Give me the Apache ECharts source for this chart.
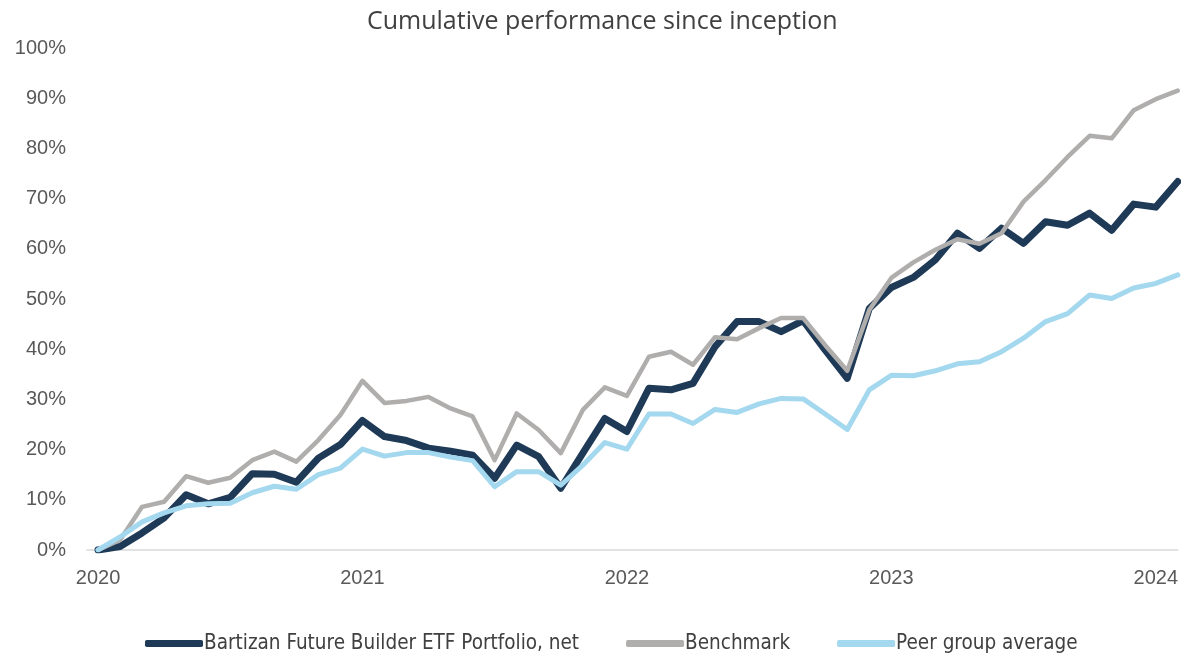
<!DOCTYPE html>
<html>
<head>
<meta charset="utf-8">
<script src="https://cdn.jsdelivr.net/npm/echarts@6/dist/echarts.min.js"></script>
<style>
html,body{margin:0;padding:0;background:#fff;}
#chart{width:1181px;height:653px;}
</style>
</head>
<body>
<div id="chart"></div>
<script>
// Monthly points from Jan 2020 (index 0) to Feb 2024 (index 49)
const yearLabels = ['2020', '2021', '2022', '2023', '2024'];
const yearIndex = [0, 12, 24, 36, 48];

const portfolio = [0, 0.7, 3.4, 6.4, 11.0, 9.2, 10.5, 15.2, 15.1, 13.5, 18.3, 21.0,
  25.8, 22.6, 21.8, 20.3, 19.7, 18.9, 14.3, 20.9, 18.6, 12.3, 19.3, 26.2,
  23.6, 32.2, 31.9, 33.2, 40.5, 45.5, 45.5, 43.5, 45.7, 39.8, 34.2, 48.1,
  52.3, 54.3, 57.8, 63.1, 60.1, 64.1, 61.1, 65.4, 64.7, 67.1, 63.7, 68.9,
  68.3, 73.4];
const benchmark = [0, 2.0, 8.6, 9.6, 14.7, 13.4, 14.4, 17.9, 19.6, 17.6, 21.9, 26.9,
  33.7, 29.3, 29.7, 30.5, 28.2, 26.6, 17.9, 27.2, 23.9, 19.3, 27.9, 32.4,
  30.7, 38.5, 39.5, 36.9, 42.4, 42.0, 44.2, 46.2, 46.2, 40.8, 35.7, 47.8,
  54.2, 57.3, 59.8, 61.9, 61.0, 63.1, 69.4, 73.7, 78.3, 82.5, 82.0, 87.6,
  89.8, 91.5];
const peer = [0, 2.6, 5.6, 7.4, 8.8, 9.2, 9.3, 11.4, 12.7, 12.1, 15.0, 16.3,
  20.1, 18.7, 19.4, 19.4, 18.5, 17.8, 12.6, 15.6, 15.6, 12.9, 16.9, 21.4,
  20.1, 27.1, 27.1, 25.2, 28.0, 27.4, 29.1, 30.2, 30.1, 27.1, 24.0, 31.9,
  34.8, 34.7, 35.7, 37.1, 37.5, 39.5, 42.2, 45.5, 47.1, 50.8, 50.1, 52.2,
  53.1, 54.8];
const seriesNames = ['Bartizan Future Builder ETF Portfolio, net', 'Benchmark', 'Peer group average'];

const toPairs = arr => arr.map((v, i) => [i, v]);

const chart = echarts.init(document.getElementById('chart'));
const axisFont = {fontFamily: 'Liberation Sans', fontSize: 20, color: '#595959'};
chart.setOption({
  animation: false,
  backgroundColor: '#ffffff',
  title: {
    text: 'Cumulative performance since inception',
    left: 362, top: 4,
    textStyle: {fontFamily: 'Open Sans', fontSize: 25, fontWeight: 'normal', color: '#404040'}
  },
  legend: {
    top: 628, left: 140,
    icon: 'roundRect', itemWidth: 58, itemHeight: 7, itemGap: 47,
    textStyle: {fontFamily: "'DejaVu Sans Condensed', Roboto", fontSize: 20.5, color: '#404040', padding: [0,0,0,-4]},
    data: seriesNames
  },
  grid: {left: 87, right: 0, top: 48, bottom: 103, containLabel: false},
  xAxis: {
    type: 'value', min: -0.5, max: 49,
    splitLine: {show: false},
    axisTick: {show: false},
    axisLine: {show: true, lineStyle: {color: '#d9d9d9', width: 1.5}},
    axisLabel: {
      ...axisFont, margin: 18,
      customValues: yearIndex,
      formatter: v => yearLabels[yearIndex.indexOf(Math.round(v))] || ''
    }
  },
  yAxis: {
    type: 'value', min: 0, max: 100, interval: 10,
    splitLine: {show: false},
    axisTick: {show: false},
    axisLine: {show: false},
    axisLabel: {...axisFont, margin: 21, formatter: v => v + '%'}
  },
  series: [
    {name: seriesNames[0], type: 'line', data: toPairs(portfolio), showSymbol: false, symbol: 'none',
      lineStyle: {color: '#1e3a57', width: 7, join: 'round', cap: 'round'}, itemStyle: {color: '#1e3a57'}},
    {name: seriesNames[1], type: 'line', data: toPairs(benchmark), showSymbol: false, symbol: 'none',
      lineStyle: {color: '#b0adad', width: 4.5, join: 'round', cap: 'round'}, itemStyle: {color: '#b0adad'}},
    {name: seriesNames[2], type: 'line', data: toPairs(peer), showSymbol: false, symbol: 'none',
      lineStyle: {color: '#a3d8ee', width: 5, join: 'round', cap: 'round'}, itemStyle: {color: '#a3d8ee'}}
  ]
});
</script>
</body>
</html>
